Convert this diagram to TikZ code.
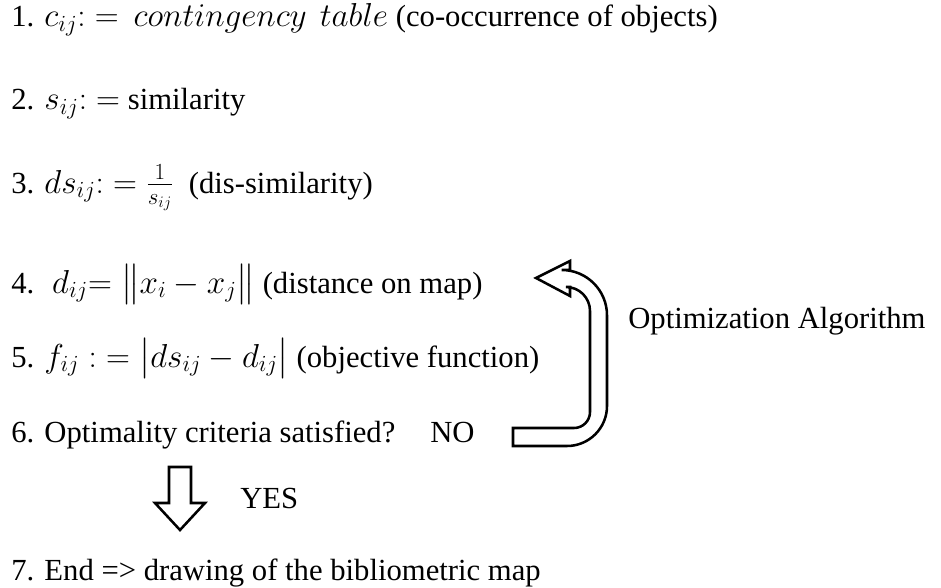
\documentclass[tikz,border=0pt]{standalone}
\usepackage{amsmath}
\usepackage{fontspec}
\setmainfont{Liberation Serif}

\begin{document}
\begin{tikzpicture}[x=0.75pt, y=-0.75pt,
    every node/.style={anchor=base west, inner sep=0pt,
                       font=\fontsize{23}{27}\selectfont},
    blockarrow/.style={draw, line width=1.9pt, fill=white}]

    \useasboundingbox (0,0) rectangle (941,588);

    % --- the seven steps of the mapping procedure
    \node (s1) at (11, 27) {1. $c_{ij}{:}=\,contingency\ \,table$ (co-occurrence of objects)};
    \node (s2) at (11,110) {2. $s_{ij}{:}=$ similarity};
    \node (s3) at (11,193) {3. $ds_{ij}{:}=\frac{1}{s_{ij}}$\ \ (dis-similarity)};
    \node (s4) at (11,293) {4. \ $d_{ij}{=}\;\bigl\|x_i-x_j\bigr\|$ (distance on map)};
    \node (s5) at (11,367) {5. $f_{ij}\;{:}=\bigl|ds_{ij}-d_{ij}\bigr|$ (objective function)};
    \node (s6) at (11,442) {6. Optimality criteria satisfied?};
    \node (no) at (430,442) {NO};
    \node (yes) at (240,508) {YES};
    \node (s7) at (11,580) {7. End => drawing of the bibliometric map};

    % --- loop back: NO -> step 4
    \draw[blockarrow] (536,278) -- (570,261) -- (570,270)
        [rounded corners=34] -- (607,270)
        [rounded corners=30] -- (607,446)
        [sharp corners] -- (513,446) -- (513,428)
        [rounded corners=12] -- (590,428)
        [rounded corners=18] -- (590,287)
        [sharp corners] -- (570,287) -- (570,296) -- cycle;
    \node (opt) at (628,328) {Optimization Algorithm};

    % --- exit: YES -> step 7
    \draw[blockarrow] (169,467) -- (191,467) -- (191,503) -- (205,503)
        -- (180,530) -- (155,503) -- (169,503) -- cycle;
\end{tikzpicture}
\end{document}
